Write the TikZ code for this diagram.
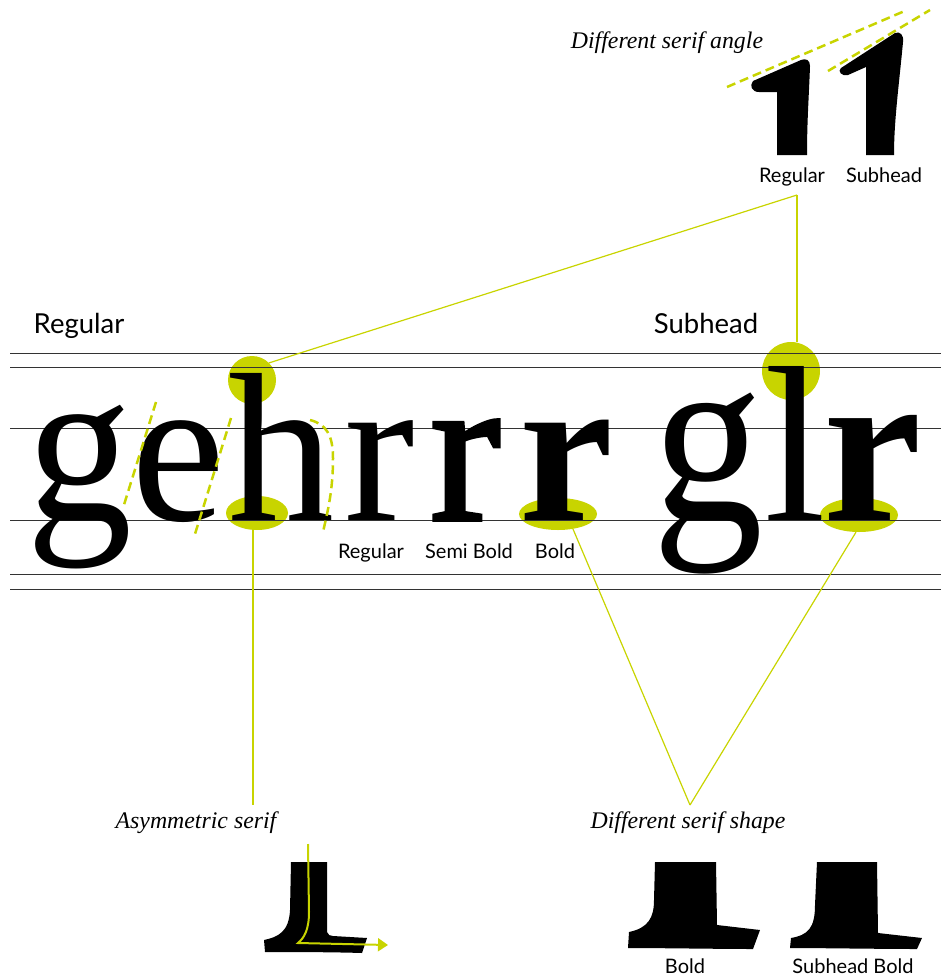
\documentclass[tikz,border=0pt]{standalone}
\usepackage{fontspec}
\setsansfont{Lato}
\newfontfamily\bigserif{Liberation Serif}
\newfontfamily\semiserif[FakeBold=1.8]{Liberation Serif}
\newfontfamily\noteserif{Liberation Serif}
\usetikzlibrary{shapes.geometric,arrows.meta}
\definecolor{lime}{RGB}{200,212,0}
\begin{document}
\begin{tikzpicture}[x=1pt,y=-1pt,
  spot/.style={fill=lime,draw=none,inner sep=0pt},
  guide/.style={draw=black!80,line width=1pt},
  link/.style={draw=lime,line width=1.2pt},
  dashg/.style={draw=lime,line width=2.5pt,dash pattern=on 9pt off 5pt},
  glyph/.style={inner sep=0pt,outer sep=0pt,anchor=base west},
  reg/.style={font=\bigserif\fontsize{212}{212}\selectfont},
  sub/.style={font=\bigserif\fontsize{222}{222}\selectfont},
  lab/.style={font=\sffamily\fontsize{20}{24}\selectfont,inner sep=0pt,anchor=base},
  bigl/.style={font=\sffamily\fontsize{27.5}{32}\selectfont,inner sep=0pt,anchor=base},
  note/.style={font=\noteserif\itshape\fontsize{23.8}{28}\selectfont,inner sep=0pt,anchor=base}]
\useasboundingbox (0,0) rectangle (941,977);

% green highlight spots
\node[spot,circle,minimum size=48pt] (hcirc) at (252,380) {};
\node[spot,ellipse,minimum width=62pt,minimum height=34pt] (hfoot) at (257,513) {};
\node[spot,ellipse,minimum width=78pt,minimum height=32pt] (bfoot) at (558,514) {};
\node[spot,circle,minimum size=58pt] (lcirc) at (791,371) {};
\node[spot,ellipse,minimum width=78pt,minimum height=34pt] (sfoot) at (859,515) {};

% guide lines
\foreach \y in {353,367,428,520,574,589} \draw[guide] (10,\y) -- (941,\y);

% big glyphs
\node[glyph,reg] (g1) at (27,520) {\scalebox{1}[1.06]{g}};
\node[glyph,reg] (e1) at (131,520) {e};
\node[glyph,reg] (h1) at (228,520) {h};
\node[glyph,reg] (r1) at (344,520) {r};
\node[glyph,font=\semiserif\fontsize{212}{212}\selectfont] (r2) at (430,520) {r};
\node[glyph,font=\bigserif\bfseries\fontsize{212}{212}\selectfont] (r3) at (519,520) {r};
\node[glyph,sub] (g2) at (652,520) {\scalebox{1}[1.12]{g}};
\node[glyph,sub] (l2) at (764,520) {l};
\node[glyph,font=\bigserif\bfseries\fontsize{222}{222}\selectfont] (r4) at (823,520) {r};

% dashed guides on glyphs
\draw[dashg] (156,402) -- (123,508);
\draw[dashg] (231,418) -- (195,534);
\draw[dashg] (310,420) .. controls (326,424) and (333,435) .. (333,458) .. controls (333,490) and (328,510) .. (323,532);

% top serif heads
\fill (777,155) -- (777,92) -- (759,92) .. controls (752,92) and (749,86) .. (753,81) -- (801,60) .. controls (806,58) and (810,60) .. (810,66) .. controls (809,95) and (807,120) .. (807,155) -- cycle;
\fill (866,155) -- (866,67) -- (848,75) .. controls (842,77) and (837,71) .. (841,68) -- (895,33) .. controls (900,31) and (904,35) .. (903,42) .. controls (899,85) and (894,120) .. (894,155) -- cycle;
\draw[dashg] (727,87) -- (907,10);
\draw[dashg] (828,71) -- (930,10);

% bottom feet
\fill (291,862) -- (327,862) -- (327,932) .. controls (328,935) and (330,936) .. (333,936) -- (367,938) -- (362,953) .. controls (330,952) and (290,952) .. (265,952) -- (264,940) .. controls (278,937) and (289,932) .. (290,910) -- cycle;
\fill (655,862) -- (716,862) -- (717,925) -- (760,930) -- (753,949) .. controls (720,949) and (660,948) .. (628,948) -- (629,932) .. controls (648,928) and (654,918) .. (654,900) -- cycle;
\fill (817,862) -- (877,862) -- (878,933) -- (922,938) -- (917,949) .. controls (880,949) and (820,948) .. (790,948) -- (791,938) .. controls (808,935) and (815,928) .. (815,905) -- cycle;
\draw[draw=lime,line width=2pt,-{Triangle[length=10pt,width=13pt]}] (308,844) -- (309,912) .. controls (309,930) and (304,938) .. (298,943) -- (388,945);

% labels
\node[note] (angle) at (667,48) {Different serif angle};
\node[lab] (treg) at (792,182) {Regular};
\node[lab] (tsub) at (884,182) {Subhead};
\node[bigl] (lreg) at (79,333) {Regular};
\node[bigl] (lsub) at (706,333) {Subhead};
\node[lab] (rreg) at (371,558) {Regular};
\node[lab] (rsemi) at (469,558) {Semi Bold};
\node[lab] (rbold) at (555,558) {Bold};
\node[note] (asym) at (196,828) {Asymmetric serif};
\node[note] (shape) at (688,828) {Different serif shape};
\node[lab] (fbold) at (685,973) {Bold};
\node[lab] (fsub) at (853,973) {Subhead Bold};

% connectors
\coordinate (v1) at (797,195);
\coordinate (v2) at (253,805);
\coordinate (v3) at (690,805);
\draw[link] (v1) -- (hcirc.45);
\draw[link] (v1) -- (v1 |- lcirc.north);
\draw[link] (v2 |- hfoot.south) -- (v2);
\draw[link] (bfoot.-45) -- (v3);
\draw[link] (sfoot.-100) -- (v3);
\end{tikzpicture}
\end{document}
